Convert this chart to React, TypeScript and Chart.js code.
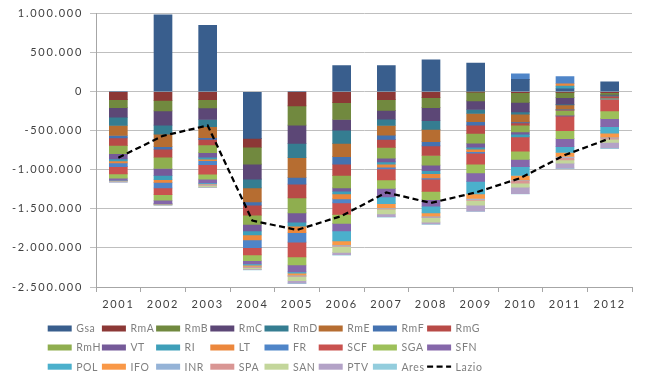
import React, { useEffect, useRef } from "react";
import { Chart, registerables } from "chart.js";

Chart.register(...registerables);

const years = ["2001", "2002", "2003", "2004", "2005", "2006", "2007", "2008", "2009", "2010", "2011", "2012"];

const Gsa = [0, 983000, 850000, -597000, 0, 335000, 335000, 408000, 365000, 157000, 38000, 127000];
const RmA = [-102000, -110000, -102000, -114000, -182000, -140000, -102000, -76000, -4000, -13000, -8000, -13000];
const RmB = [-102000, -136000, -106000, -216000, -246000, -216000, -136000, -127000, -114000, -123000, -68000, -21000];
const RmC = [-123000, -182000, -148000, -191000, -233000, -136000, -114000, -169000, -110000, -123000, -85000, -8000];
const RmD = [-106000, -114000, -93000, -114000, -182000, -169000, -80000, -110000, -51000, -30000, -8000, -4000];
const RmE = [-127000, -161000, -140000, -178000, -254000, -169000, -123000, -157000, -106000, -97000, -55000, -8000];
const RmF = [-30000, -34000, -21000, -42000, -85000, -97000, -55000, -55000, -42000, -13000, -8000, -4000];
const RmG = [-97000, -102000, -72000, -127000, -178000, -144000, -102000, -123000, -106000, -30000, -8000, -17000];
const RmH = [-106000, -144000, -97000, -119000, -191000, -161000, -140000, -123000, -127000, -85000, -59000, -8000];
const VT = [-68000, -89000, -59000, -85000, -119000, -42000, -47000, -72000, -51000, -30000, -13000, -4000];
const RI = [-25000, -55000, -25000, -51000, -51000, -34000, -30000, -38000, -25000, -34000, 34000, -4000];
const LT = [-25000, -34000, -21000, -64000, -85000, -64000, -38000, -55000, -30000, 0, 30000, -4000];
const FR = [-47000, -72000, -51000, -97000, -119000, -51000, -21000, -13000, -21000, 72000, 93000, -4000];
const SCF = [-93000, -85000, -119000, -93000, -191000, -148000, -140000, -157000, -140000, -182000, -186000, -148000];
const SGA = [-55000, -72000, -64000, -76000, -102000, -114000, -110000, -106000, -114000, -106000, -102000, -97000];
const SFN = [-25000, -42000, -51000, -42000, -89000, -97000, -110000, -85000, -106000, -93000, -102000, -102000];
const POL = [-4000, -4000, -8000, -13000, -17000, -127000, -85000, -85000, -161000, -114000, -76000, -85000];
const IFO = [-4000, -4000, -8000, -17000, -25000, -51000, -55000, -42000, -59000, -55000, -51000, -51000];
const INR = [-4000, -2000, -8000, -8000, -8000, -13000, -8000, -13000, -13000, -8000, -13000, -8000];
const SPA = [-2000, -2000, -8000, -8000, -8000, -8000, -8000, -8000, -13000, -34000, -30000, -17000];
const SAN = [-8000, -4000, -17000, -17000, -55000, -76000, -59000, -55000, -59000, -51000, -42000, -42000];
const PTV = [-4000, -4000, -8000, -8000, -30000, -30000, -38000, -25000, -76000, -85000, -64000, -72000];
const Ares = [-2000, -2000, -4000, -4000, -8000, -4000, -4000, -4000, -4000, -2000, -8000, -8000];
const Lazio = [-844000, -565000, -432000, -1650000, -1770000, -1590000, -1290000, -1424000, -1290000, -1106000, -810000, -598000];

const barSeries: [string, number[], string][] = [
  ["Gsa", Gsa, "#395E8D"],
  ["RmA", RmA, "#8C3836"],
  ["RmB", RmB, "#71893F"],
  ["RmC", RmC, "#5C4776"],
  ["RmD", RmD, "#357D91"],
  ["RmE", RmE, "#B66D31"],
  ["RmF", RmF, "#4472B0"],
  ["RmG", RmG, "#B84A47"],
  ["RmH", RmH, "#8FAE4F"],
  ["VT", VT, "#755A99"],
  ["RI", RI, "#3E9FB9"],
  ["LT", LT, "#EC873C"],
  ["FR", FR, "#4F85C8"],
  ["SCF", SCF, "#C9524F"],
  ["SGA", SGA, "#9DC05A"],
  ["SFN", SFN, "#8567AA"],
  ["POL", POL, "#4BB0CC"],
  ["IFO", IFO, "#F99847"],
  ["INR", INR, "#95B3D7"],
  ["SPA", SPA, "#D99694"],
  ["SAN", SAN, "#C3D69B"],
  ["PTV", PTV, "#B3A2C7"],
  ["Ares", Ares, "#93CDDD"],
];

const FONT = "Lato";
const LS = "1.7px";

function fmt(v: number): string {
  const s = Math.abs(v).toString().replace(/\B(?=(\d{3})+(?!\d))/g, ".");
  return (v < 0 ? "-" : "") + s;
}

const spacingPlugin = {
  id: "spacing",
  beforeLayout(chart: any) {
    chart.ctx.letterSpacing = LS;
  },
  beforeDraw(chart: any) {
    chart.ctx.letterSpacing = LS;
  },
};

const legendPlugin = {
  id: "gridLegend",
  afterDraw(chart: any) {
    const ctx = chart.ctx;
    const rows = [328.5, 347.5, 366.7];
    ctx.save();
    ctx.letterSpacing = "0.6px";
    ctx.font = `10.5px ${FONT}`;
    ctx.textBaseline = "middle";
    ctx.textAlign = "left";
    chart.data.datasets.forEach((ds: any, i: number) => {
      const col = i % 8;
      const row = Math.floor(i / 8);
      const x0 = 47.7 + col * 54.2;
      const y = rows[row];
      if (ds.type === "line") {
        ctx.strokeStyle = "#000";
        ctx.lineWidth = 2.25;
        ctx.setLineDash([6, 3.5]);
        ctx.beginPath();
        ctx.moveTo(x0, y);
        ctx.lineTo(x0 + 24, y);
        ctx.stroke();
        ctx.setLineDash([]);
      } else {
        ctx.fillStyle = ds.backgroundColor;
        ctx.fillRect(x0, y - 3, 24, 6);
      }
      ctx.fillStyle = "#7F7F7F";
      ctx.fillText(ds.label, x0 + 28.5, y + 0.5);
    });
    ctx.restore();
  },
};

export default function App() {
  const ref = useRef<HTMLCanvasElement>(null);
  useEffect(() => {
    if (!ref.current) return;
    const datasets: any[] = barSeries.map(([label, data, color]) => ({
      type: "bar",
      label,
      data,
      backgroundColor: color,
      borderWidth: 0,
      stack: "a",
      barThickness: 18,
      order: 1,
    }));
    datasets.push({
      type: "line",
      label: "Lazio",
      data: Lazio,
      borderColor: "#000000",
      borderWidth: 2.25,
      borderDash: [6, 3.5],
      pointRadius: 0,
      fill: false,
      tension: 0,
      stack: "lazio",
      order: 0,
    });
    const chart = new Chart(ref.current, {
      type: "bar",
      data: { labels: years, datasets },
      plugins: [spacingPlugin, legendPlugin],
      options: {
        animation: false,
        responsive: false,
        layout: { padding: { top: 12, right: 13, bottom: 0, left: 0 } },
        plugins: { legend: { display: false }, tooltip: { enabled: false } },
        scales: {
          x: {
            stacked: true,
            grid: {
              display: true,
              drawOnChartArea: false,
              drawTicks: true,
              tickLength: 5,
              offset: true,
              color: "#A6A6A6",
            },
            border: { display: true, color: "#A6A6A6" },
            ticks: { color: "#404040", font: { family: FONT, size: 11 }, padding: 6, maxRotation: 0 },
            afterFit(scale: any) {
              scale.height = 95;
            },
          },
          y: {
            stacked: true,
            min: -2500000,
            max: 1000000,
            grid: { color: "#BFBFBF", tickLength: 6, lineWidth: 1 },
            border: { display: true, color: "#A6A6A6" },
            ticks: {
              stepSize: 500000,
              color: "#404040",
              font: { family: FONT, size: 11 },
              padding: 7,
              callback: (v: any) => fmt(Number(v)),
            },
            afterFit(scale: any) {
              scale.width = 96;
            },
          },
        },
      },
    });
    return () => chart.destroy();
  }, []);
  return (
    <div style={{ position: "fixed", left: 0, top: 0, width: 645, height: 382, background: "#fff" }}>
      <canvas ref={ref} width={645} height={382} />
    </div>
  );
}
